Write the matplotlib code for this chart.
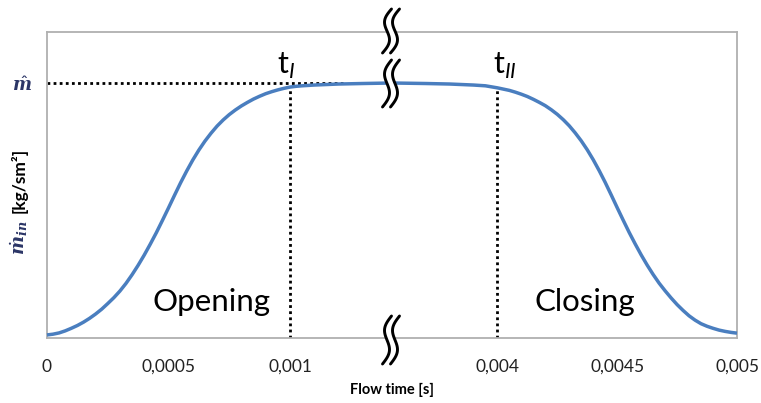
import matplotlib
matplotlib.use("Agg")
import matplotlib.pyplot as plt
import numpy as np
from matplotlib.lines import Line2D
from matplotlib.ticker import FixedLocator, FuncFormatter

plt.rcParams['font.family'] = ['Lato', 'DejaVu Sans']
plt.rcParams['mathtext.fontset'] = 'custom'
plt.rcParams['mathtext.rm'] = 'Lato'
plt.rcParams['mathtext.it'] = 'DejaVu Serif:italic:bold'
plt.rcParams['mathtext.sf'] = 'Lato:italic'
plt.rcParams['mathtext.bf'] = 'Lato:bold'

# Mass flow during valve opening (normalised to the plateau value)
open_t = [0, 0.000025, 0.00005, 0.000075, 0.0001, 0.000125, 0.00015, 0.000175,
          0.0002, 0.000225, 0.00025, 0.000275, 0.0003, 0.000325, 0.00035, 0.000375,
          0.0004, 0.000425, 0.00045, 0.000475, 0.0005, 0.000525, 0.00055, 0.000575,
          0.0006, 0.000625, 0.00065, 0.000675, 0.0007, 0.000725, 0.00075, 0.000775,
          0.0008, 0.000825, 0.00085, 0.000875, 0.0009, 0.000925, 0.00095, 0.000975,
          0.001, 0.001025, 0.00105, 0.0011, 0.00115, 0.0012, 0.0013, 0.00142]
open_m = [0.012, 0.015, 0.020, 0.028, 0.038, 0.049, 0.062, 0.077,
          0.094, 0.113, 0.135, 0.158, 0.184, 0.214, 0.248, 0.285,
          0.325, 0.368, 0.413, 0.461, 0.510, 0.560, 0.609, 0.655,
          0.698, 0.737, 0.772, 0.803, 0.831, 0.855, 0.876, 0.894,
          0.910, 0.924, 0.937, 0.948, 0.958, 0.966, 0.973, 0.979,
          0.984, 0.987, 0.989, 0.992, 0.994, 0.996, 0.998, 1.0]

# Mass flow during valve closing
close_t = [0.00356, 0.0037, 0.0038, 0.0039, 0.00395, 0.004, 0.004025, 0.00405,
           0.004075, 0.0041, 0.004125, 0.00415, 0.004175, 0.0042, 0.004225, 0.00425,
           0.004275, 0.0043, 0.004325, 0.00435, 0.004375, 0.0044, 0.004425, 0.00445,
           0.004475, 0.0045, 0.004525, 0.00455, 0.004575, 0.0046, 0.004625, 0.00465,
           0.004675, 0.0047, 0.004725, 0.00475, 0.004775, 0.0048, 0.004825, 0.00485,
           0.004875, 0.0049, 0.004925, 0.00495, 0.004975, 0.005]
close_m = [1.0, 0.998, 0.996, 0.992, 0.989, 0.981, 0.976, 0.971,
           0.964, 0.956, 0.947, 0.936, 0.924, 0.911, 0.895, 0.877,
           0.856, 0.832, 0.804, 0.773, 0.738, 0.699, 0.656, 0.610,
           0.561, 0.511, 0.462, 0.414, 0.369, 0.326, 0.286, 0.249,
           0.215, 0.185, 0.157, 0.131, 0.108, 0.087, 0.070, 0.056,
           0.046, 0.038, 0.031, 0.026, 0.022, 0.019]

left_ticks = [0, 0.0005, 0.001]
right_ticks = [0.004, 0.0045, 0.005]
t_I = 0.001
t_II = 0.004
m_hat = 1.0
m_hat_line_end = 0.00122
left_xlim = (0, 0.00142)
right_xlim = (0.00356, 0.005)
y_max = 1.2

W, H = 761, 403
fig = plt.figure(figsize=(W / 100, H / 100), dpi=100)

x0, xb, x1 = 47, 392, 737
ytop, ybot = 32, 338
axL = fig.add_axes([x0 / W, (H - ybot) / H, (xb - x0) / W, (ybot - ytop) / H])
axR = fig.add_axes([xb / W, (H - ybot) / H, (x1 - xb) / W, (ybot - ytop) / H],
                   sharey=axL)

line_color = '#4a7ebf'
spine_color = '#b0b0b0'
symbol_color = '#2b3566'


def comma_fmt(v, pos):
    return f"{v:g}".replace('.', ',')


for ax, xlim, ticks in ((axL, left_xlim, left_ticks), (axR, right_xlim, right_ticks)):
    ax.set_xlim(*xlim)
    ax.set_ylim(0, y_max)
    ax.xaxis.set_major_locator(FixedLocator(ticks))
    ax.xaxis.set_major_formatter(FuncFormatter(comma_fmt))
    ax.tick_params(axis='x', length=0, pad=15, labelsize=12.5, labelcolor='#222222')
    for s in ax.spines.values():
        s.set_color(spine_color)
        s.set_linewidth(1.3)
    ax.patch.set_alpha(0)

axL.spines['right'].set_visible(False)
axR.spines['left'].set_visible(False)
axR.tick_params(axis='y', left=False, labelleft=False)

axL.set_yticks([m_hat])
axL.set_yticklabels([r'$\hat{m}$'])
axL.tick_params(axis='y', length=0, pad=11, labelsize=13, labelcolor=symbol_color)

# flow curve
axL.plot(open_t, open_m, color=line_color, lw=2.5, solid_capstyle='butt', clip_on=False, zorder=3)
axR.plot(close_t, close_m, color=line_color, lw=2.5, solid_capstyle='butt', clip_on=False, zorder=3)

# reference lines for the plateau and the switching times
dot = (0, (1, 1.2))
axL.plot([0, m_hat_line_end], [m_hat, m_hat], color='black', lw=2, linestyle=dot, zorder=2)
m_at_tI = np.interp(t_I, open_t, open_m)
m_at_tII = np.interp(t_II, close_t, close_m)
axL.plot([t_I, t_I], [0, m_at_tI], color='black', lw=2, linestyle=dot, zorder=2)
axR.plot([t_II, t_II], [0, m_at_tII], color='black', lw=2, linestyle=dot, zorder=2)

axL.text(0.000947, 1.035, r'$\mathregular{t}_{\mathsf{I}}$', fontsize=22, ha='left', va='baseline')
axR.text(0.003983, 1.035, r'$\mathregular{t}_{\mathsf{II}}$', fontsize=22, ha='left', va='baseline')

axL.text(0.000679, 0.106, 'Opening', fontsize=22.5, ha='center', va='baseline')
axR.text(0.004367, 0.104, 'Closing', fontsize=22.5, ha='center', va='baseline')

# axis titles
fig.text(392 / W, 1 - 390 / H, 'Flow time [s]', ha='center', va='center',
         fontsize=10.5, fontweight='bold')
fig.text(19 / W, 1 - 180 / H, '[kg/sm²]', rotation=90, ha='center', va='center',
         fontsize=12.5, fontweight='bold')
fig.text(19 / W, 1 - 238 / H, r'$\dot{m}_{in}$', rotation=90, ha='center', va='center',
         fontsize=13, color=symbol_color)


# axis-break marks: two parallel slanted S-strokes
def break_mark(xc, yt, yb):
    tt = np.linspace(0, 1, 120)
    hgt = yb - yt
    for dx, col, lw in ((4, 'white', 4), (0, 'black', 2.1), (8, 'black', 2.1)):
        xs = xc - 5 + dx + 9 * (0.5 - tt) - 4.5 * np.sin(2 * np.pi * tt)
        ys = yt + hgt * tt
        fig.add_artist(Line2D(xs / W, 1 - ys / H, transform=fig.transFigure,
                              color=col, lw=lw, solid_capstyle='round', zorder=10))


break_mark(xb, 9, 53)
break_mark(xb, 60, 107)
break_mark(xb, 316, 364)

fig.savefig('out.png', dpi=100)
